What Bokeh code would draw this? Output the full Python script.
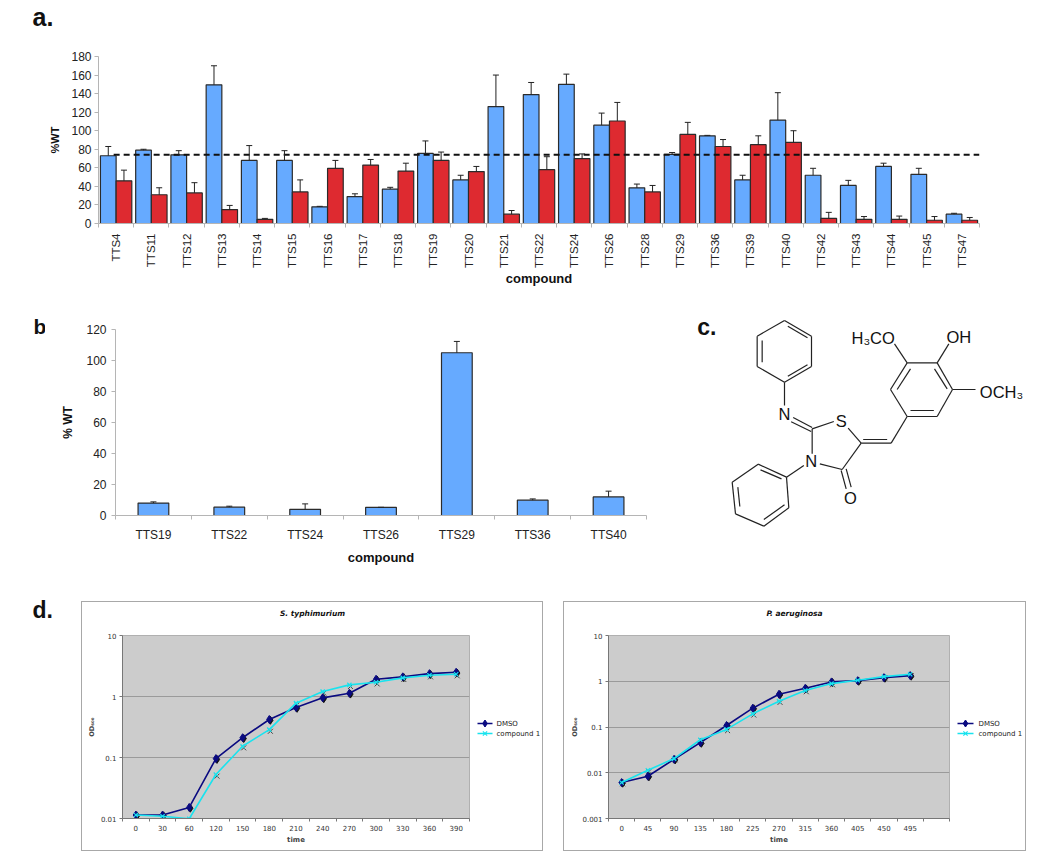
from bokeh.plotting import figure
from bokeh.layouts import column, row
from bokeh.models import (ColumnDataSource, FixedTicker, Whisker, TeeHead, Range1d, Spacer)
from bokeh.core.properties import value
from bokeh.embed import file_html
from bokeh.resources import INLINE

SANS = "Liberation Sans"
VERA = "DejaVu Sans"

# ---- panel a
a_names = ["TTS4","TTS11","TTS12","TTS13","TTS14","TTS15","TTS16","TTS17","TTS18","TTS19","TTS20","TTS21","TTS22",
           "TTS24","TTS26","TTS28","TTS29","TTS36","TTS39","TTS40","TTS42","TTS43","TTS44","TTS45","TTS47"]
a_blue = [73,79,74,149.5,68,68,18,29,37,75.5,47,126,139,150,106,38.5,74.5,94.5,47,111.5,52,41,61.5,53,10]
a_blue_top = [83,80,78.5,170,84,78.5,18.5,32,39,89,52,160,152,161,119,42.5,76.5,95,52,141,59.5,46.5,65,59.5,11]
a_red = [46,31,33,15,4.5,34,59.5,63,56.5,68,56,10,58,70,110.5,34,96,83,85,87.5,5.5,4.5,4.5,3.5,3.5]
a_red_top = [57.5,38.5,44,19.5,5.5,47,68,69,65,77,61.5,14,72,75,130.5,41,109,90.5,94.5,100,12,7.5,8,7.5,6.5]
a_threshold = 74
a_yticks = [0,20,40,60,80,100,120,140,160,180]

# ---- panel b
b_names = ["TTS19","TTS22","TTS24","TTS26","TTS29","TTS36","TTS40"]
b_vals = [8,5.4,4,5.3,105,9.9,12]
b_tops = [8.8,6,7.5,5.3,112.3,10.7,15.7]
b_yticks = [0,20,40,60,80,100,120]

# ---- panel d
d_series = ["DMSO", "compound 1"]
d1_title = "S. typhimurium"
d1_times = ["0","30","60","120","150","180","210","240","270","300","330","360","390"]
d1_dmso = [.0114,.0114,.0152,.096,.211,.42,.66,.95,1.13,1.92,2.10,2.37,2.5]
d1_comp = [.0114,.0109,.0099,.0526,.153,.286,.778,1.21,1.55,1.71,2.02,2.23,2.32]
d1_ticks = {10:"10",1:"1",0.1:"0.1",0.01:"0.01"}

d2_title = "P. aeruginosa"
d2_times = ["0","45","90","135","180","225","270","315","360","405","450","495"]
d2_dmso = [.0061,.0084,.0197,.0454,.108,.258,.52,.70,.967,1.03,1.2,1.33]
d2_comp = [.0061,.0113,.0204,.0527,.0886,.194,.367,.627,.889,1.05,1.26,1.42]
d2_ticks = {10:"10",1:"1",0.1:"0.1",0.01:"0.01",0.001:"0.001"}

# ---- panel c: structure, in its own drawing units
c_bonds = [
 (312,45,393,92),(393,92,393,183),(393,183,312,230),(312,230,230,183),(230,183,230,92),(230,92,312,45),
 (322,62,381,97),(245,105,245,170),(322,212,381,178),
 (312,230,312,300),(338,336,395,366),(332,349,392,378),(395,370,460,348),(503,368,542,413),
 (542,413,632,413),(548,402,620,402),(632,413,680,333),
 (680,333,630,252),(630,252,680,172),(680,172,770,172),(770,172,816,252),(816,252,770,333),(770,333,680,333),
 (690,315,760,315),(650,252,690,190),(762,190,800,250),
 (680,172,642,115),(770,172,805,115),(816,252,885,252),
 (395,370,395,445),(418,475,485,492),(485,492,542,413),(482,495,497,550),(497,490,512,545),
 (370,480,318,515),
 (318,515,233,476),(233,476,155,530),(155,530,165,625),(165,625,250,662),(250,662,325,607),(325,607,318,515),
 (240,493,303,520),(172,545,178,603),(250,642,312,598),
]
c_atoms = ["N","S","N","O","H₃CO","OH","OCH₃"]
c_atom_x = [312,482,392,510,578,835,963]
c_atom_y = [325,347,465,578,98,95,258]


def base(**kw):
    p = figure(output_backend="svg", toolbar_location=None, frame_align=False, **kw)
    p.background_fill_color = "white"
    p.border_fill_color = "white"
    return p


def blank(**kw):
    p = base(min_border_left=0, min_border_right=0, min_border_top=0, min_border_bottom=0, **kw)
    p.axis.visible = False
    p.grid.visible = False
    p.outline_line_color = None
    return p


def letter(txt, w, h, x, y, size):
    p = blank(width=w, height=h, x_range=Range1d(0, w), y_range=Range1d(h, 0))
    p.text(x=[x], y=[y], text=[txt], text_font=value(SANS), text_font_style="bold", text_font_size=f"{size}px",
           text_color="#111", text_align="left", text_baseline="middle")
    return p


def bar_axes(p, names, yticks, tick_px, y_px, lab_px, ylab, ylab_px):
    n = len(names)
    centers = [i + 0.5 for i in range(n)]
    xa = p.xaxis[0]
    xa.ticker = FixedTicker(ticks=centers, minor_ticks=list(range(n + 1)))
    xa.major_label_overrides = {c: t for c, t in zip(centers, names)}
    xa.major_tick_out = 0
    xa.major_tick_in = 0
    xa.minor_tick_out = 4
    xa.minor_tick_in = 0
    xa.axis_line_color = "#b5b5b5"
    xa.minor_tick_line_color = "#b5b5b5"
    xa.major_label_text_font = SANS
    xa.major_label_text_font_size = f"{tick_px}px"
    xa.major_label_text_color = "#222"
    xa.axis_label = "compound"
    xa.axis_label_text_font = SANS
    xa.axis_label_text_font_style = "bold"
    xa.axis_label_text_font_size = f"{lab_px}px"
    xa.axis_label_text_color = "#111"
    ya = p.yaxis[0]
    ya.ticker = FixedTicker(ticks=yticks)
    ya.major_tick_out = 4
    ya.major_tick_in = 0
    ya.minor_tick_line_color = None
    ya.axis_line_color = "#b5b5b5"
    ya.major_tick_line_color = "#b5b5b5"
    ya.major_label_text_font = SANS
    ya.major_label_text_font_size = f"{y_px}px"
    ya.major_label_text_color = "#222"
    ya.axis_label = ylab
    ya.axis_label_text_font = SANS
    ya.axis_label_text_font_style = "bold"
    ya.axis_label_text_font_size = f"{ylab_px}px"
    ya.axis_label_text_color = "#111"
    p.grid.visible = False
    p.outline_line_color = None


def bars(p, xs, w, vals, tops, color):
    src = ColumnDataSource(dict(x=xs, val=vals, top=tops))
    p.add_layout(Whisker(source=src, base="x", upper="top", lower="val", level="glyph",
                         line_color="#222", line_width=1,
                         upper_head=TeeHead(size=6, line_color="#222", line_width=1), lower_head=None))
    p.vbar(x="x", top="val", width=w, bottom=0, source=src, fill_color=color, line_color="#2b2b2b", line_width=1.2)


# panel a ------------------------------------------------------------
pa = base(width=1040, height=270, x_range=Range1d(0, len(a_names)), y_range=Range1d(0, 180),
          min_border_left=98, min_border_right=61, min_border_top=26, min_border_bottom=77)
bar_axes(pa, a_names, a_yticks, 11.5, 12, 13, "%WT", 11)
pa.xaxis[0].major_label_orientation = 1.5708
pa.xaxis[0].major_label_standoff = 6
pa.xaxis[0].axis_label_standoff = 0
pa.yaxis[0].major_label_standoff = 3
pa.yaxis[0].axis_label_standoff = 7
bars(pa, [i + 0.2775 for i in range(len(a_names))], 0.445, a_blue, a_blue_top, "#66aaff")
bars(pa, [i + 0.7225 for i in range(len(a_names))], 0.445, a_red, a_red_top, "#de2a30")
pa.line([0.43, len(a_names)], [a_threshold, a_threshold], line_color="#111", line_width=2, line_dash="6 4")
la = letter("a.", 120, 30, 32, 16, 25)

# panel b ------------------------------------------------------------
pb = base(width=615, height=275, x_range=Range1d(0, len(b_names)), y_range=Range1d(0, 120),
          min_border_left=70, min_border_right=14, min_border_top=29, min_border_bottom=60)
bar_axes(pb, b_names, b_yticks, 12, 12, 13, "% WT", 12)
pb.xaxis[0].major_label_standoff = 8
pb.xaxis[0].axis_label_standoff = 5
pb.yaxis[0].axis_label_standoff = 8
bars(pb, [i + 0.5 for i in range(len(b_names))], 0.405, b_vals, b_tops, "#66aaff")
lb = letter("b", 45, 275, 33, 26, 21)

# panel c ------------------------------------------------------------
pc = blank(width=380, height=275, x_range=Range1d(-60, 1080), y_range=Range1d(810, -15))
pc.segment(x0=[b[0] for b in c_bonds], y0=[b[1] for b in c_bonds], x1=[b[2] for b in c_bonds], y1=[b[3] for b in c_bonds],
           line_color="#222", line_width=1.2)
pc.text(x=c_atom_x, y=c_atom_y, text=c_atoms, text_font=value(SANS), text_font_size="16.5px", text_color="#111",
        text_align="center", text_baseline="middle")
pc.text(x=[50], y=[64], text=["c."], text_font=value(SANS), text_font_style="bold", text_font_size="23px",
        text_color="#111", text_align="left", text_baseline="middle")

DMSO_C = "#0a0a80"
COMP_C = "#19e3ee"


# panel d ------------------------------------------------------------
def growth(times, dmso, comp, ticks, ymin, wid, bl, br, ncats, ylab_off):
    p = base(width=wid, height=226, x_range=Range1d(0, ncats), y_range=Range1d(ymin, 10), y_axis_type="log",
             min_border_left=bl, min_border_right=br, min_border_top=11, min_border_bottom=32)
    p.background_fill_color = "#cccccc"
    p.outline_line_color = "#b0b0b0"
    centers = [i + 0.5 for i in range(len(times))]
    xa = p.xaxis[0]
    xa.ticker = FixedTicker(ticks=centers, minor_ticks=list(range(ncats + 1)))
    xa.major_label_overrides = {c: t for c, t in zip(centers, times)}
    xa.major_tick_out = 0
    xa.major_tick_in = 0
    xa.minor_tick_out = 3
    xa.minor_tick_in = 0
    xa.axis_line_color = "#777"
    xa.minor_tick_line_color = "#777"
    xa.major_label_text_font = VERA
    xa.major_label_text_font_size = "7px"
    xa.major_label_text_color = "#333"
    xa.major_label_standoff = 3
    xa.axis_label = "time"
    xa.axis_label_text_font = VERA
    xa.axis_label_text_font_style = "bold"
    xa.axis_label_text_font_size = "7px"
    xa.axis_label_standoff = 2
    ya = p.yaxis[0]
    ya.ticker = FixedTicker(ticks=list(ticks))
    ya.major_label_overrides = dict(ticks)
    ya.minor_tick_line_color = None
    ya.major_tick_out = 3
    ya.major_tick_in = 0
    ya.axis_line_color = "#777"
    ya.major_tick_line_color = "#777"
    ya.major_label_text_font = VERA
    ya.major_label_text_font_size = "7px"
    ya.major_label_text_color = "#333"
    ya.major_label_standoff = 3
    ya.axis_label = "OD₆₀₀"
    ya.axis_label_text_font = VERA
    ya.axis_label_text_font_style = "bold"
    ya.axis_label_text_font_size = "6.5px"
    ya.axis_label_standoff = ylab_off
    p.xgrid.visible = False
    p.ygrid[0].ticker = FixedTicker(ticks=list(ticks))
    p.ygrid[0].grid_line_color = "#9a9a9a"
    p.ygrid[0].grid_line_width = 1

    # dark offset shadow that the original markers carry
    p.scatter([c + 0.04 for c in centers], [v * 0.97 for v in dmso], marker="diamond", size=8, fill_color="#111", line_color="#111")
    p.scatter([c + 0.04 for c in centers], [v * 0.94 for v in comp], marker="x", size=7, line_color="#222", line_width=0.8)
    p.line(centers, dmso, line_color=DMSO_C, line_width=1.6)
    p.scatter(centers, dmso, marker="diamond", size=8, fill_color=DMSO_C, line_color=DMSO_C)
    p.line(centers, comp, line_color=COMP_C, line_width=1.6)
    p.scatter(centers, comp, marker="x", size=6, line_color=COMP_C, line_width=1.2)
    return p


def head(title, wid):
    h = blank(width=wid, height=22, x_range=Range1d(0, wid), y_range=Range1d(22, 0))
    h.text(x=[230], y=[11], text=[title], text_font=value(VERA), text_font_style="bold italic", text_font_size="7.5px",
           text_color="#111", text_align="center", text_baseline="middle")
    return h


def key(wid, lx0, lx1, tx):
    k = blank(width=wid, height=248, x_range=Range1d(0, wid), y_range=Range1d(248, 0))
    ys = [121, 131]
    k.line([lx0, lx1], [ys[0], ys[0]], line_color=DMSO_C, line_width=1.6)
    k.line([lx0, lx1], [ys[1], ys[1]], line_color=COMP_C, line_width=1.6)
    mid = (lx0 + lx1) / 2
    k.scatter([mid], [ys[0]], marker="diamond", size=7, fill_color=DMSO_C, line_color=DMSO_C)
    k.scatter([mid], [ys[1]], marker="x", size=6, line_color=COMP_C, line_width=1.2)
    k.text(x=[tx, tx], y=ys, text=d_series, text_font=value(VERA), text_font_size="7px", text_color="#222",
           text_align="left", text_baseline="middle")
    return k


BOX = {"border": "1px solid #a8a8a8"}
pd1 = growth(d1_times, d1_dmso, d1_comp, d1_ticks, 0.01, 388, 40, 1, 13, 2)
pd2 = growth(d2_times, d2_dmso, d2_comp, d2_ticks, 0.001, 386, 44, 1, 13, 0)
box1 = row(column(head(d1_title, 388), pd1, spacing=0), key(72, 7, 22, 26), spacing=0, styles=BOX)
box2 = row(column(head(d2_title, 386), pd2, spacing=0), key(75, 7, 23, 28), spacing=0, styles=BOX)
ld = letter("d.", 81, 60, 32, 34, 23)

row_a = column(la, pa, spacing=0)
row_bc = row(lb, pb, pc, spacing=0)
row_d = row(ld, column(Spacer(width=462, height=26), box1, spacing=0), Spacer(width=20, height=10),
            column(Spacer(width=463, height=26), box2, spacing=0), spacing=0)
page = column(row_a, row_bc, row_d, spacing=0)
open("out.html", "w").write(file_html(page, INLINE))
